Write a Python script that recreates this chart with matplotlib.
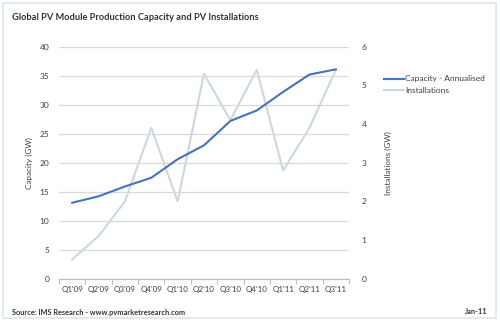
import matplotlib
matplotlib.use("Agg")
import matplotlib.pyplot as plt
from matplotlib.patches import Rectangle
import numpy as np

quarters = ["Q1'09", "Q2'09", "Q3'09", "Q4'09", "Q1'10", "Q2'10",
            "Q3'10", "Q4'10", "Q1'11", "Q2'11", "Q3'11"]
capacity = [13.1, 14.2, 15.9, 17.4, 20.6, 23.0, 27.2, 29.0, 32.2, 35.2, 36.1]
installations = [0.5, 1.1, 2.0, 3.9, 2.0, 5.3, 4.1, 5.4, 2.8, 3.9, 5.4]

plt.rcParams['font.family'] = ['Lato', 'DejaVu Sans']

fig = plt.figure(figsize=(5.0, 3.22), dpi=100)
W, H = 500, 322

# outer frame
fig.patches.append(Rectangle((3 / W, 1 - 318 / H), 493 / W, 315 / H,
                             transform=fig.transFigure, fill=False,
                             edgecolor='#dce6ec', linewidth=1.2))

ax = fig.add_axes([59 / W, 1 - 278.7 / H, 290 / W, 232 / H])
ax2 = ax.twinx()

x = np.arange(len(quarters))
ax.plot(x, capacity, color='#4472C4', linewidth=1.5, zorder=3,
        label='Capacity - Annualised')
ax2.plot(x, installations, color='#c9d9e3', linewidth=1.5, zorder=2,
         label='Installations')
ax.set_zorder(ax2.get_zorder() + 1)
ax.patch.set_visible(False)

ax.set_xlim(-0.5, len(quarters) - 0.5)
ax.set_ylim(0, 40)
ax2.set_ylim(0, 6)
ax.set_yticks(np.arange(0, 41, 5))
ax2.set_yticks(np.arange(0, 7, 1))
ax.yaxis.grid(True, color='#d9d9d9', linewidth=0.9)
ax.set_axisbelow(True)

ax.set_xticks(x)
ax.set_xticklabels(quarters)
ax.set_xticks(np.arange(-0.5, len(quarters)), minor=True)
ax.tick_params(axis='x', which='major', length=0, pad=5, labelsize=5.8,
               labelcolor='#404040')
ax.tick_params(axis='x', which='minor', length=3.5, color='#bfbfbf',
               width=0.8)
ax.tick_params(axis='y', length=0, pad=7, labelsize=6.0, labelcolor='#404040')
ax2.tick_params(axis='y', length=0, pad=9, labelsize=6.0, labelcolor='#404040')

for a in (ax, ax2):
    for s in ('top', 'left', 'right'):
        a.spines[s].set_visible(False)
    a.spines['bottom'].set_color('#bfbfbf')
    a.spines['bottom'].set_linewidth(0.8)

ax.set_ylabel('Capacity (GW)', fontsize=5.9, color='#404040', labelpad=5)
ax2.set_ylabel('Installations (GW)', fontsize=5.9, color='#404040',
               labelpad=13, rotation=90)

h1, l1 = ax.get_legend_handles_labels()
h2, l2 = ax2.get_legend_handles_labels()
fig.legend(h1 + h2, l1 + l2, loc='upper left',
           bbox_to_anchor=(376 / W, 1 - 68 / H), frameon=False,
           fontsize=6.0, handlelength=2.5, handletextpad=0.1,
           labelspacing=0.55, labelcolor='#404040')

fig.text(12 / W, 1 - 18 / H,
         'Global PV Module Production Capacity and PV Installations',
         fontsize=6.7, fontweight='bold', color='#333333', va='center')
fig.text(12 / W, 1 - 312 / H,
         'Source: IMS Research - www.pvmarketresearch.com',
         fontsize=5.3, fontweight='bold', color='#333333', va='center')
fig.text(488 / W, 1 - 312 / H, 'Jan-11', fontsize=5.3, fontweight='bold',
         color='#333333', va='center', ha='right')

fig.savefig('out.png', dpi=100)
